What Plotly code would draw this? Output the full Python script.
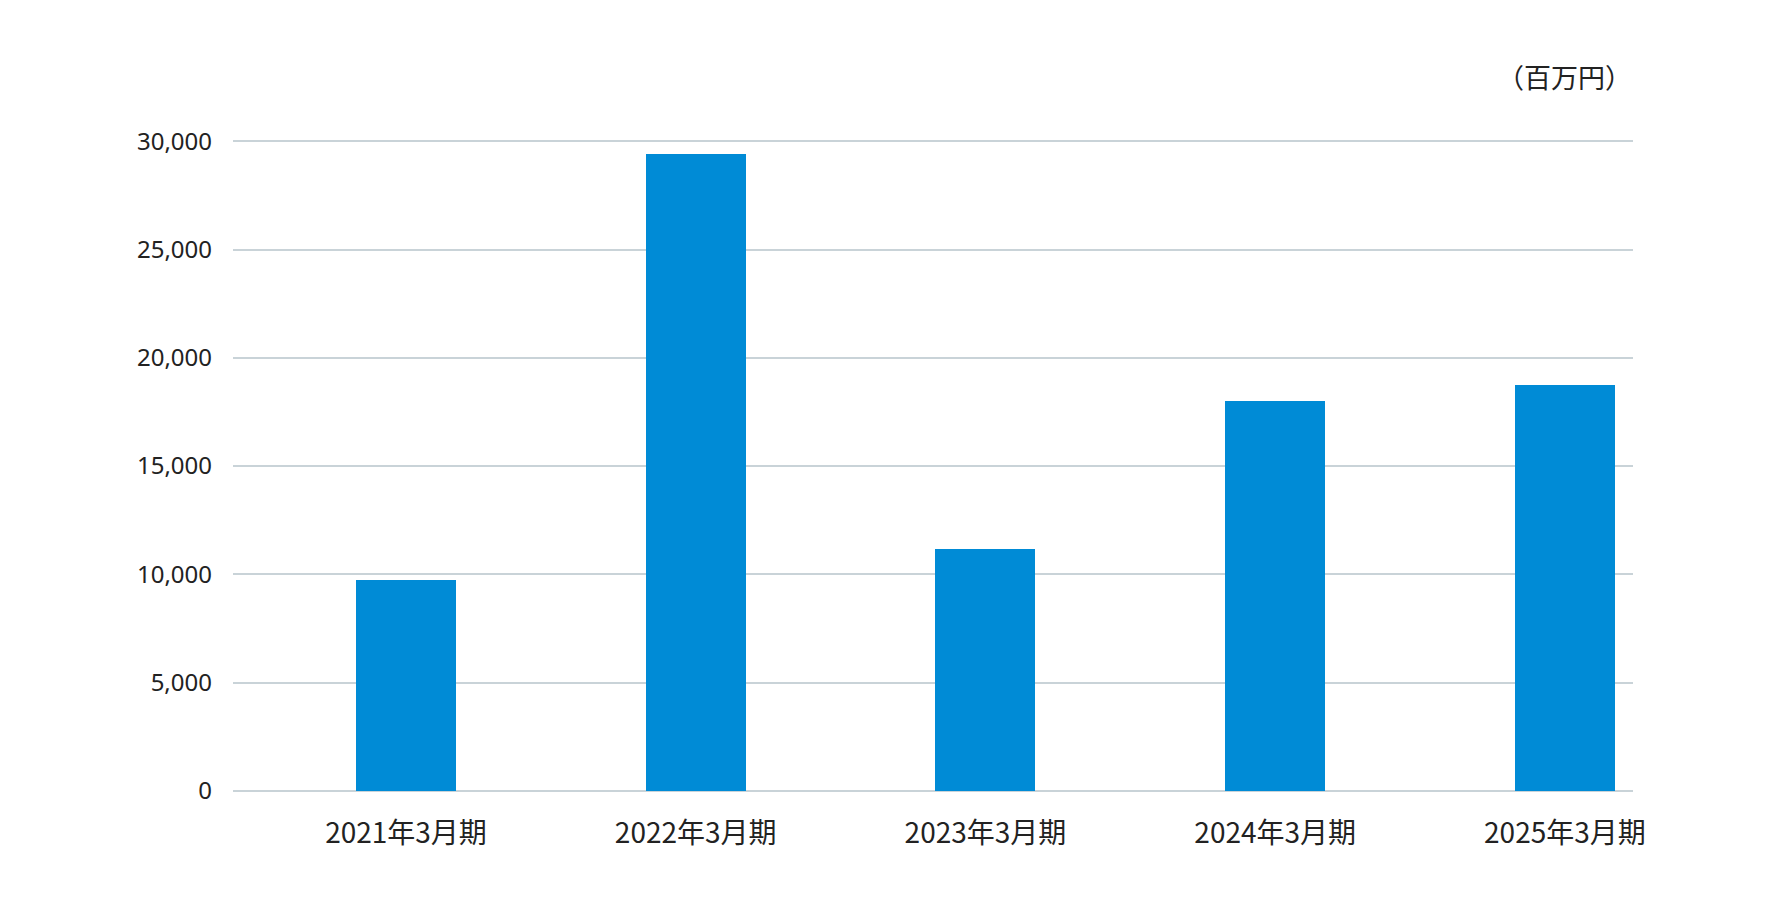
import plotly.graph_objects as go

# 決算期と値（百万円）
periods = ["2021年3月期", "2022年3月期", "2023年3月期", "2024年3月期", "2025年3月期"]
values = [9740, 29390, 11150, 18000, 18740]
y_ticks = [0, 5000, 10000, 15000, 20000, 25000, 30000]
y_tick_labels = ["0", "5,000", "10,000", "15,000", "20,000", "25,000", "30,000"]
unit_label = "（百万円）"

bar = go.Bar(x=periods, y=values,
             marker=dict(color="#008bd6", line=dict(width=0)),
             width=0.345,
             hoverinfo="x+y")

fig = go.Figure(data=[bar])
fig.update_layout(width=1780, height=912,
                  paper_bgcolor="white", plot_bgcolor="white",
                  margin=dict(l=225, r=155, t=130, b=126),
                  font=dict(family="Noto Sans CJK JP, Noto Sans, sans-serif",
                            color="#222222"),
                  showlegend=False,
                  bargap=0)

fig.update_xaxes(type="category", range=[-0.597, 4.235],
                 showgrid=False, zeroline=False, showline=False,
                 ticks="", tickfont=dict(size=28), ticklabelstandoff=20)

fig.update_yaxes(range=[-150, 30150],
                 tickvals=y_ticks, ticktext=y_tick_labels,
                 showgrid=True, gridcolor="#c9d3d8", gridwidth=2,
                 zeroline=False, showline=False,
                 ticks="", tickfont=dict(size=24, family="Noto Sans"),
                 ticklabelstandoff=20)

# unit label over the last bar
fig.add_annotation(x=periods[-1], xref="x", y=1, yref="paper",
                   yanchor="middle", yshift=62,
                   text=unit_label, showarrow=False,
                   font=dict(size=27))

fig.write_html("out.html")
